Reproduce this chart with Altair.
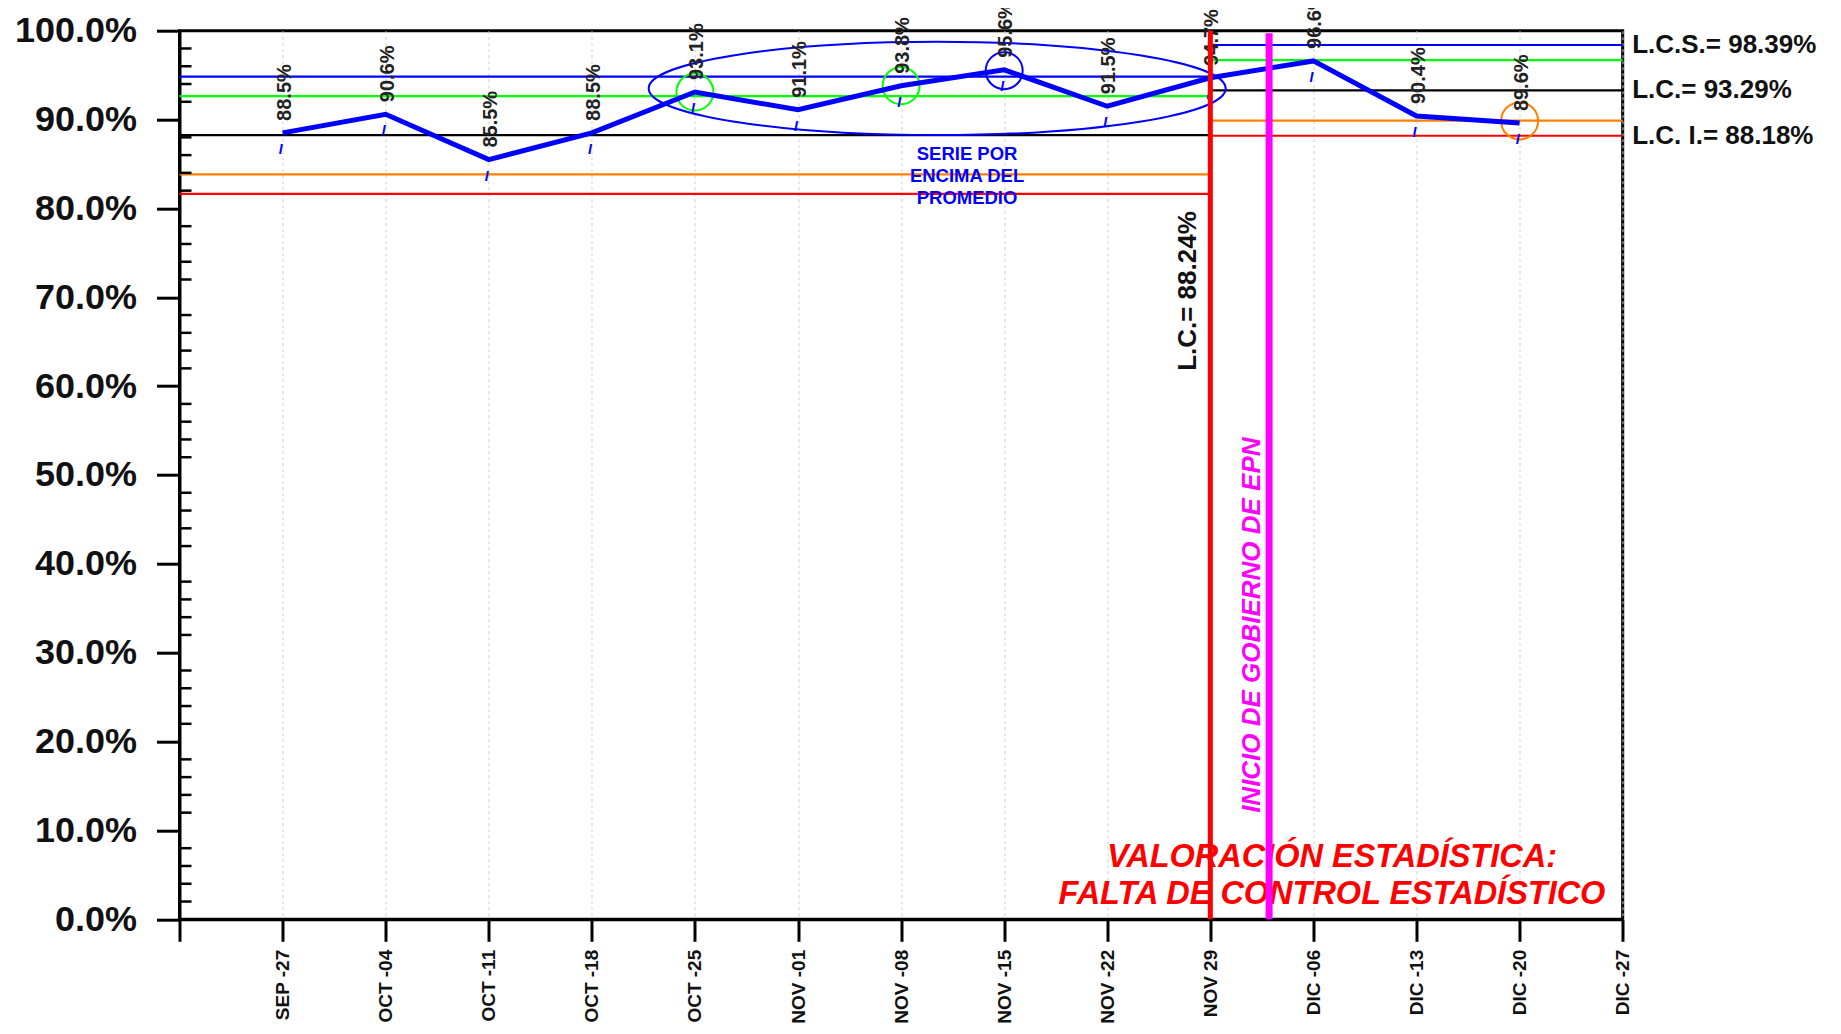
import altair as alt
import pandas as pd

FONT = "Liberation Sans"

# ---------------- data ----------------
week_labels = ["SEP -27", "OCT -04", "OCT -11", "OCT -18", "OCT -25", "NOV -01", "NOV -08",
               "NOV -15", "NOV -22", "NOV 29", "DIC -06", "DIC -13", "DIC -20", "DIC -27"]
week_pos = [1, 2, 3, 4, 5, 6, 7, 8, 9, 10, 11, 12, 13, 14]
values = [88.5, 90.6, 85.5, 88.5, 93.1, 91.1, 93.8, 95.6, 91.5, 94.7, 96.6, 90.4, 89.6]

limit_colors = ["#0000FF", "#00FF00", "#000000", "#FF8000", "#FF0000"]
limits_p1 = [94.84, 92.64, 88.24, 83.84, 81.64]   # first period (SEP-27 .. NOV 29)
limits_p2 = [98.39, 96.69, 93.29, 89.89, 88.18]   # second period (NOV 29 .. DIC-27)
period1 = [0, 10]
period2 = [10, 14]

right_labels = ["L.C.S.= 98.39%", "L.C.= 93.29%", "L.C. I.= 88.18%"]
right_label_y = [98.39, 93.29, 88.18]

circle_x = [5, 7, 8, 13]
circle_y = [93.1, 93.8, 95.5, 89.85]
circle_c = ["#00FF00", "#00FF00", "#0000FF", "#FF8000"]

ellipse_x = [7.35]
ellipse_y = [93.5]

y_major = [0, 10, 20, 30, 40, 50, 60, 70, 80, 90, 100]
y_minor = [v for v in range(2, 100, 2) if v % 10 != 0]

W, H = 1443.2, 888.6

# ---------------- scales / axes ----------------
xs = alt.Scale(domain=[0, 14], nice=False, zero=False)
ys = alt.Scale(domain=[0, 100], nice=False, zero=True)

label_js = "[" + ",".join("'" + s + "'" for s in week_labels) + "]"
xaxis = alt.Axis(values=[0] + week_pos,
                 labelExpr=f"datum.value == 0 ? '' : {label_js}[datum.value - 1]",
                 labelAngle=270, labelFont=FONT, labelFontSize=19, labelFontWeight="bold",
                 labelColor="#111111", labelPadding=8, labelFlush=False, labelOverlap=False,
                 tickSize=22, tickWidth=3, tickColor="black",
                 domainColor="black", domainWidth=3,
                 grid=True, gridColor="#cfcfcf", gridDash=[3, 3], gridWidth=1, title=None)
yaxis = alt.Axis(values=y_major, labelExpr="format(datum.value, '.1f') + '%'",
                 labelFont=FONT, labelFontSize=36, labelFontWeight="bold", labelColor="#111111",
                 labelPadding=20, labelFlush=False, labelOverlap=False,
                 tickSize=23, tickWidth=3, tickColor="black",
                 domainColor="black", domainWidth=3, grid=False, title=None)


def X(f):
    return alt.X(f, type="quantitative", scale=xs, axis=xaxis, title=None)


def Y(f):
    return alt.Y(f, type="quantitative", scale=ys, axis=yaxis, title=None)


# ---------------- tables ----------------
rows = []
for i, c in enumerate(limit_colors):
    rows.append({"x": period1[0], "x2": period1[1], "y": limits_p1[i], "c": c})
    rows.append({"x": period2[0], "x2": period2[1], "y": limits_p2[i], "c": c})
limits_df = pd.DataFrame(rows)

series_df = pd.DataFrame({"x": week_pos[:len(values)], "v": values,
                          "lab": [f"{v:.1f}%" for v in values]})

limit_layer = alt.Chart(limits_df).mark_rule(strokeWidth=2.2).encode(
    x=X("x"), x2="x2", y=Y("y"), color=alt.Color("c:N", scale=None))

minor_layer = alt.Chart(pd.DataFrame({"v": y_minor})).mark_rule(
    color="black", strokeWidth=2.5).encode(
    x=alt.value(0), x2=alt.value(12), y=Y("v"))

ellipse_path = "M-1,0A1,0.1617,0,1,1,1,0A1,0.1617,0,1,1,-1,0Z"
ellipse_layer = alt.Chart(pd.DataFrame({"x": ellipse_x, "y": ellipse_y})).mark_point(
    shape=ellipse_path, size=577 ** 2, filled=False, strokeWidth=2, color="#0000FF",
    opacity=1).encode(x=X("x"), y=Y("y"))

circle_layer = alt.Chart(pd.DataFrame({"x": circle_x, "y": circle_y, "c": circle_c})).mark_point(
    shape="circle", size=37 ** 2, filled=False, strokeWidth=2, opacity=1).encode(
    x=X("x"), y=Y("y"), color=alt.Color("c:N", scale=None))

line_layer = alt.Chart(series_df).mark_line(color="#0000FF", strokeWidth=5).encode(
    x=X("x"), y=Y("v"))

label_layer = alt.Chart(series_df).mark_text(
    angle=270, align="left", baseline="middle", dx=12, dy=2,
    font=FONT, fontSize=20, fontWeight="bold", color="#222222").encode(
    x=X("x"), y=Y("v"), text="lab:N")

dash_layer = alt.Chart(series_df).mark_text(
    text="I", align="center", baseline="middle", dx=-2, dy=17,
    font=FONT, fontSize=14, fontWeight="bold", fontStyle="italic", color="#0000FF").encode(
    x=X("x"), y=Y("v"))

serie_layer = alt.Chart(pd.DataFrame({"x": [7.64], "y": [86.12],
                                      "t": ["SERIE POR\nENCIMA DEL\nPROMEDIO"]})).mark_text(
    align="center", baseline="middle", lineBreak="\n", lineHeight=22,
    font=FONT, fontSize=18.5, fontWeight="bold", color="#0000FF").encode(
    x=X("x"), y=Y("y"), text="t:N")

lc_old_layer = alt.Chart(pd.DataFrame({"x": [9.78], "y": [70.7],
                                       "t": ["L.C.= 88.24%"]})).mark_text(
    angle=270, align="center", baseline="middle",
    font=FONT, fontSize=26, fontWeight="bold", color="#111111").encode(
    x=X("x"), y=Y("y"), text="t:N")

inicio_layer = alt.Chart(pd.DataFrame({"x": [10.4], "y": [33.1],
                                       "t": ["INICIO DE GOBIERNO DE EPN"]})).mark_text(
    angle=270, align="center", baseline="middle",
    font=FONT, fontSize=26, fontWeight="bold", fontStyle="italic", color="#FF00FF").encode(
    x=X("x"), y=Y("y"), text="t:N")

valor_layer = alt.Chart(pd.DataFrame({"x": [11.18, 11.18], "y": [7.0, 2.8],
                                      "t": ["VALORACIÓN ESTADÍSTICA:",
                                            "FALTA DE CONTROL ESTADÍSTICO"]})).mark_text(
    align="center", baseline="middle",
    font=FONT, fontSize=32.5, fontWeight="bold", fontStyle="italic", color="#FF0000").encode(
    x=X("x"), y=Y("y"), text="t:N")

right_layer = alt.Chart(pd.DataFrame({"y": right_label_y, "t": right_labels})).mark_text(
    align="left", baseline="middle", font=FONT, fontSize=26, fontWeight="bold",
    color="#111111").encode(
    x=alt.value(W + 9.5), y=Y("y"), text="t:N")

red_vline = alt.Chart(pd.DataFrame({"x": [10], "y": [0], "y2": [100]})).mark_rule(
    color="#FF0000", strokeWidth=5).encode(x=X("x"), y=Y("y"), y2="y2")

mag_vline = alt.Chart(pd.DataFrame({"x": [10.57], "y": [0], "y2": [99.7]})).mark_rule(
    color="#FF00FF", strokeWidth=7).encode(x=X("x"), y=Y("y"), y2="y2")

chart = alt.layer(
    limit_layer, minor_layer, ellipse_layer, circle_layer, line_layer,
    label_layer, dash_layer, serie_layer, lc_old_layer, inicio_layer, valor_layer,
    right_layer, red_vline, mag_vline
).properties(
    width=W, height=H,
    autosize=alt.AutoSizeParams(type="none"),
    padding={"left": 171.5, "top": 22.7, "right": 200, "bottom": 106.5},
    background="white",
).configure_view(stroke="black", strokeWidth=3)

chart.save("out.html", embed_options={"renderer": "svg", "actions": False})
